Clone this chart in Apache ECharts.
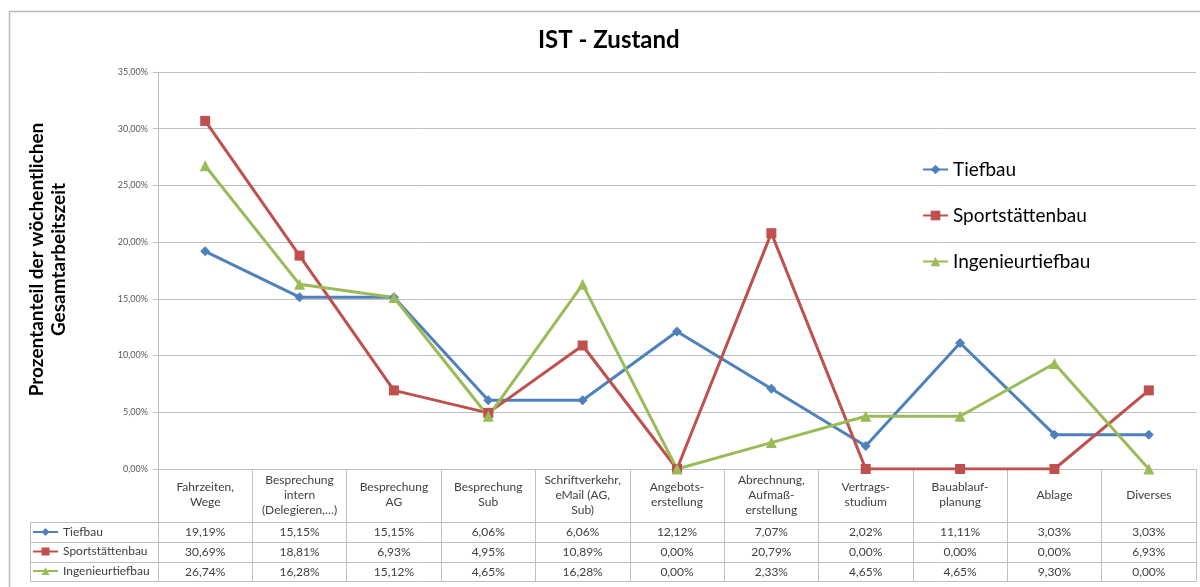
<!DOCTYPE html>
<html><head><meta charset="utf-8">
<script src="https://cdn.jsdelivr.net/npm/echarts@6/dist/echarts.min.js"></script>
<style>html,body{margin:0;padding:0;background:#fff}#c{width:1200px;height:587px}</style>
</head><body><div id="c"></div>
<script>
const categories = ["Fahrzeiten,\nWege","Besprechung\nintern\n(Delegieren,…)","Besprechung\nAG","Besprechung\nSub","Schriftverkehr,\neMail (AG,\nSub)","Angebots-\nerstellung","Abrechnung,\nAufmaß-\nerstellung","Vertrags-\nstudium","Bauablauf-\nplanung","Ablage","Diverses"];
const seriesNames = ["Tiefbau","Sportstättenbau","Ingenieurtiefbau"];
const tiefbau = [19.19,15.15,15.15,6.06,6.06,12.12,7.07,2.02,11.11,3.03,3.03];
const sportstaettenbau = [30.69,18.81,6.93,4.95,10.89,0.00,20.79,0.00,0.00,0.00,6.93];
const ingenieurtiefbau = [26.74,16.28,15.12,4.65,16.28,0.00,2.33,4.65,4.65,9.30,0.00];
const yMin = 0, yMax = 35, yStep = 5;
const titleText = "IST - Zustand";
const yName = "Prozentanteil der wöchentlichen\nGesamtarbeitszeit";

const colors = ['#4F81BD','#C0504D','#9BBB59'];
const symbols = ['diamond','rect','triangle'];
const symbolSizes = [10,10,11];
const FONT = 'Lato';
const LINE = '#bfbfbf';
const gridLeft = 158, gridRight = 4, gridTop = 72, plotBottom = 469;
const rowY = [522, 542, 562, 581];
const tableLeft = 30;

const fmt = v => v.toFixed(2).replace('.', ',') + '%';
const rows = [tiefbau, sportstaettenbau, ingenieurtiefbau];

const xAxes = [{
  type: 'category', data: categories, boundaryGap: true,
  axisLine: {show: true, lineStyle: {color: LINE, width: 1}},
  axisTick: {show: true, alignWithLabel: false, interval: 0, length: rowY[3] - plotBottom, lineStyle: {color: LINE, width: 1}},
  axisLabel: {interval: 0, fontFamily: FONT, fontSize: 12, color: '#404040', lineHeight: 15, verticalAlign: 'middle', margin: 26, align: 'center'},
  splitLine: {show: false}
}];
rows.forEach((r, i) => {
  xAxes.push({
    type: 'category', data: categories, position: 'bottom', offset: rowY[i] - plotBottom,
    axisLine: {show: true, lineStyle: {color: LINE, width: 1}},
    axisTick: {show: false},
    axisLabel: {interval: 0, fontFamily: FONT, fontSize: 12, color: '#404040', verticalAlign: 'middle', margin: 10,
      formatter: (v, idx) => fmt(r[idx])},
    splitLine: {show: false}
  });
});
xAxes.push({
  type: 'category', data: categories, position: 'bottom', offset: rowY[3] - plotBottom,
  axisLine: {show: true, lineStyle: {color: LINE, width: 1}},
  axisTick: {show: false}, axisLabel: {show: false}, splitLine: {show: false}
});

const graphics = [
  {type: 'rect', shape: {x: 9.5, y: 11.5, width: 1400, height: 800}, style: {fill: 'none', stroke: '#bbbbbb', lineWidth: 1.5}, silent: true, z: -1}
];
rowY.forEach(y => graphics.push({type: 'line', shape: {x1: tableLeft, y1: y + 0.5, x2: gridLeft, y2: y + 0.5}, style: {stroke: LINE, lineWidth: 1}, silent: true}));
graphics.push({type: 'line', shape: {x1: tableLeft + 0.5, y1: rowY[0], x2: tableLeft + 0.5, y2: rowY[3] + 0.5}, style: {stroke: LINE, lineWidth: 1}, silent: true});

const option = {
  animation: false,
  backgroundColor: '#fff',
  title: {text: titleText, left: 538, top: 28, padding: 0, textStyle: {fontFamily: FONT, fontSize: 24, fontWeight: 'bold', color: '#000'}},
  legend: [
    {data: seriesNames, orient: 'vertical', left: 922, top: 160, padding: 0, itemWidth: 25, itemHeight: 12, itemGap: 27,
     textStyle: {fontFamily: FONT, fontSize: 19, color: '#000'}},
    {data: seriesNames, orient: 'vertical', left: 32, top: 526, padding: 0, itemWidth: 25, itemHeight: 10, itemGap: 7.5,
     textStyle: {fontFamily: FONT, fontSize: 12, color: '#404040'}}
  ],
  grid: {left: gridLeft, right: gridRight, top: gridTop, bottom: 587 - plotBottom, containLabel: false},
  xAxis: xAxes,
  yAxis: {
    type: 'value', min: yMin, max: yMax, interval: yStep,
    name: yName, nameLocation: 'middle', nameGap: 88,
    nameTextStyle: {fontFamily: FONT, fontSize: 19, fontWeight: 'bold', color: '#000', lineHeight: 22, padding: [0, 0, 0, 22]},
    axisLine: {show: true, lineStyle: {color: LINE}},
    axisTick: {show: true, length: 5, lineStyle: {color: LINE}},
    axisLabel: {fontFamily: FONT, fontSize: 9, color: '#595959', margin: 10, formatter: v => fmt(v)},
    splitLine: {show: true, lineStyle: {color: LINE, width: 1}}
  },
  series: rows.map((r, i) => ({
    name: seriesNames[i], type: 'line', data: r, xAxisIndex: 0,
    symbol: symbols[i], symbolSize: symbolSizes[i], showSymbol: true,
    lineStyle: {color: colors[i], width: 3}, itemStyle: {color: colors[i]}
  })),
  graphic: graphics
};
const chart = echarts.init(document.getElementById('c'));
chart.setOption(option);
</script></body></html>
